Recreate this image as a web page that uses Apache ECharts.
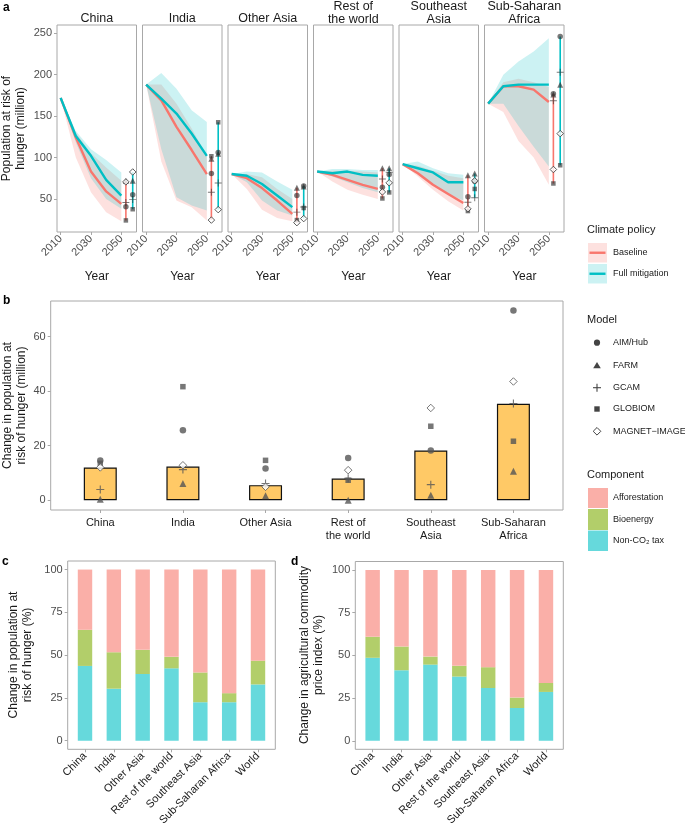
<!DOCTYPE html>
<html><head><meta charset="utf-8">
<script src="https://cdn.jsdelivr.net/npm/echarts@6/dist/echarts.min.js"></script>
<style>html,body{margin:0;padding:0;background:#fff}#c{width:685px;height:827px}</style>
</head><body><div id="c"></div>
<script>
// ---------------- Panel a data ----------------
const regionStrips = ['China', 'India', 'Other Asia', 'Rest of\nthe world', 'Southeast\nAsia', 'Sub-Saharan\nAfrica'];
const years = [2010, 2020, 2030, 2040, 2050];
const yearTicks = [2010, 2030, 2050];
const popTicks = [50, 100, 150, 200, 250];
// rows: China, India, Other Asia, Rest of the world, Southeast Asia, Sub-Saharan Africa
const baseLine = [
  [172, 124, 83, 59, 44], [188, 169, 137, 109, 80], [80, 75, 63, 48, 32],
  [83, 79, 73, 67, 62], [92, 81, 67, 56, 45], [165, 186, 186, 182, 167]];
const fullLine = [
  [172, 126, 102, 73, 54], [188, 171, 153, 129, 102], [80, 78, 68, 54, 40],
  [83, 81, 83, 79, 78], [92, 87, 82, 70, 70], [165, 186, 188, 188, 188]];
const baseLow = [
  [172, 100, 58, 34, 23], [188, 95, 48, 40, 24], [80, 62, 37, 27, 23],
  [83, 71, 61, 55, 50], [92, 77, 61, 47, 36], [165, 155, 120, 100, 67]];
const baseHigh = [
  [172, 130, 105, 88, 72], [188, 188, 165, 135, 102], [80, 80, 76, 62, 50],
  [83, 84, 84, 83, 82], [92, 90, 84, 78, 75], [165, 191, 195, 191, 185]];
const fullLow = [
  [172, 118, 75, 50, 38], [188, 110, 52, 42, 36], [80, 70, 48, 36, 30],
  [83, 77, 70, 63, 58], [92, 82, 68, 56, 48], [165, 165, 138, 113, 89]];
const fullHigh = [
  [172, 132, 110, 97, 82], [188, 202, 183, 157, 143], [80, 83, 82, 71, 61],
  [83, 86, 86, 85, 85], [92, 95, 87, 81, 79], [165, 200, 216, 228, 244]];
// 2050 model results per region
const baseAIM     = [40.5, 80.6, 54, 64, 52.6, 177];
const baseFARM    = [71.5, 98.5, 63.4, 87, 78.6, 176];
const baseGCAM    = [45.5, 58, 34, 74, 46, 168.5];
const baseGLOBIOM = [24, 101.5, 24.4, 50.5, 35.3, 68.6];
const baseMAGNET  = [70.5, 24.4, 21.3, 58.4, 38, 85.5];
const fullAIM     = [55, 106, 65.6, 79.5, 71.4, 246];
const fullFARM    = [72, 104.6, 65, 87, 80.6, 187.8];
const fullGCAM    = [49.4, 69.2, 40.1, 82, 51.4, 203];
const fullGLOBIOM = [37.5, 142.5, 39, 57.8, 62, 90.6];
const fullMAGNET  = [82.5, 37, 26.2, 69.4, 71.8, 128.8];

// ---------------- Panel b data ----------------
const bCategories = ['China', 'India', 'Other Asia', 'Rest of\nthe world', 'Southeast\nAsia', 'Sub-Saharan\nAfrica'];
const bTicks = [0, 20, 40, 60];
const bMedian  = [12.0, 12.3, 5.5, 7.9, 18.2, 35.3];
const bAIM     = [14.5, 25.6, 11.6, 15.5, 18.2, 69.5];
const bFARM    = [0.3, 6.1, 1.6, 0.0, 1.8, 10.6];
const bGCAM    = [3.9, 11.2, 6.1, 8.0, 5.7, 35.4];
const bGLOBIOM = [13.5, 41.6, 14.6, 7.3, 27.1, 21.6];
const bMAGNET  = [12.0, 12.8, 4.9, 11.0, 33.8, 43.5];

// ---------------- Panels c & d data ----------------
const cdCategories = ['China', 'India', 'Other Asia', 'Rest of the world', 'Southeast Asia', 'Sub-Saharan Africa', 'World'];
const pctTicks = [0, 25, 50, 75, 100];
const cNonCO2 = [43.7, 30.4, 39.0, 42.3, 22.5, 22.5, 32.9];
const cBio    = [21.1, 21.3, 14.1, 6.7, 17.4, 5.3, 13.9];
const cAffor  = [35.2, 48.3, 46.9, 51.0, 60.1, 72.2, 53.2];
const dNonCO2 = [48.6, 41.3, 44.6, 37.6, 30.9, 19.2, 28.6];
const dBio    = [12.3, 13.9, 4.7, 6.3, 12.2, 6.1, 5.3];
const dAffor  = [39.1, 44.8, 50.7, 56.1, 56.9, 74.7, 66.1];

const modelNames = ['AIM/Hub', 'FARM', 'GCAM', 'GLOBIOM', 'MAGNET\u2212IMAGE'];
const componentNames = ['Afforestation', 'Bioenergy', 'Non-CO\u2082 tax'];

// ---------------- styling ----------------
const FONT = 'Liberation Sans, Arial, Helvetica, sans-serif';
const TICK_C = '#4d4d4d', BORDER_C = '#a8a8a8';
const RED = '#F8766D', CYAN = '#00BFC4';
const PINK_FILL = 'rgba(248,118,109,0.22)', CYAN_FILL = 'rgba(0,191,196,0.20)';
const C_AFF = '#FAAFA8', C_BIO = '#B2CE6A', C_NON = '#66D9DC';
const plusPath = 'path://M4.3,0H5.7V4.3H10V5.7H5.7V10H4.3V5.7H0V4.3H4.3Z';
const modelSymbols = ['circle', 'triangle', plusPath, 'rect', 'diamond'];
const aSizes = [5.5, 6, 7, 4.5, 6.5];
const bSizes = [6.5, 7, 8, 5.5, 7.5];
const baseX = 2053, fullX = 2057.5;

const aLefts = [57, 142.5, 228, 313.5, 399, 484.5];
const aWidth = 79.5;

const grids = [], xAxes = [], yAxes = [], series = [], graphics = [];

function gridCfg(left, top, width, height) {
  return {left, top, width, height, show: true, borderColor: BORDER_C, borderWidth: 1,
    backgroundColor: 'transparent', containLabel: false, outerBoundsMode: 'none'};
}
function txt(x, y, text, opts) {
  return Object.assign({type: 'text', x, y, silent: true,
    style: Object.assign({text, font: (opts && opts.font) || ('12px ' + FONT), fill: (opts && opts.fill) || '#1a1a1a',
      textAlign: (opts && opts.align) || 'left', textVerticalAlign: 'middle', lineHeight: (opts && opts.lh) || 14})},
    opts && opts.rotation ? {rotation: opts.rotation} : {});
}
function valueAxis(gi, min, max, ticks, showLabels, labelOpts) {
  return {gridIndex: gi, type: 'value', min, max,
    axisLine: {show: false, onZero: false}, splitLine: {show: false},
    axisTick: {show: showLabels, customValues: ticks, length: 3, lineStyle: {color: BORDER_C}},
    axisLabel: Object.assign({show: showLabels, customValues: ticks, fontSize: 11, fontFamily: FONT,
      color: TICK_C, margin: 5, formatter: v => String(v)}, labelOpts || {})};
}

// ---------------- Panel a ----------------
const baseModels = [baseAIM, baseFARM, baseGCAM, baseGLOBIOM, baseMAGNET];
const fullModels = [fullAIM, fullFARM, fullGCAM, fullGLOBIOM, fullMAGNET];

function ribbon(gi, lo, hi, color) {
  const data = years.map((yr, k) => [yr, lo[k], hi[k]]);
  return {type: 'custom', xAxisIndex: gi, yAxisIndex: gi, data, encode: {x: 0, y: [1, 2]}, silent: true, z: 1,
    renderItem: function (params, api) {
      if (params.dataIndex !== 0) return null;
      const pts = [];
      for (let k = 0; k < data.length; k++) pts.push(api.coord([data[k][0], data[k][2]]));
      for (let k = data.length - 1; k >= 0; k--) pts.push(api.coord([data[k][0], data[k][1]]));
      return {type: 'polygon', shape: {points: pts}, style: {fill: color}};
    }};
}

for (let i = 0; i < 6; i++) {
  grids.push(gridCfg(aLefts[i], 25, aWidth, 207));
  const xa = valueAxis(i, 2007.6, 2060, yearTicks, true, {rotate: 45});
  xa.name = 'Year'; xa.nameLocation = 'middle'; xa.nameGap = 39;
  xa.nameTextStyle = {fontSize: 12, fontFamily: FONT, color: '#1a1a1a'};
  xAxes.push(xa);
  yAxes.push(valueAxis(i, 10, 260, popTicks, i === 0));

  series.push(ribbon(i, baseLow[i], baseHigh[i], PINK_FILL));
  series.push(ribbon(i, fullLow[i], fullHigh[i], CYAN_FILL));
  series.push({type: 'line', xAxisIndex: i, yAxisIndex: i, showSymbol: false, silent: true, z: 3,
    data: years.map((yr, k) => [yr, baseLine[i][k]]), lineStyle: {color: RED, width: 2.4}});
  series.push({type: 'line', xAxisIndex: i, yAxisIndex: i, showSymbol: false, silent: true, z: 3,
    data: years.map((yr, k) => [yr, fullLine[i][k]]), lineStyle: {color: CYAN, width: 2.4}});
  const bVals = baseModels.map(a => a[i]), fVals = fullModels.map(a => a[i]);
  series.push({type: 'line', xAxisIndex: i, yAxisIndex: i, showSymbol: false, silent: true, z: 3,
    data: [[baseX, Math.min(...bVals)], [baseX, Math.max(...bVals)]], lineStyle: {color: RED, width: 1.6}});
  series.push({type: 'line', xAxisIndex: i, yAxisIndex: i, showSymbol: false, silent: true, z: 3,
    data: [[fullX, Math.min(...fVals)], [fullX, Math.max(...fVals)]], lineStyle: {color: CYAN, width: 1.6}});
  for (let m = 0; m < 5; m++) {
    const open = m === 4;
    series.push({type: 'scatter', xAxisIndex: i, yAxisIndex: i, silent: true, z: 4,
      symbol: modelSymbols[m], symbolSize: aSizes[m],
      data: [[baseX, baseModels[m][i]], [fullX, fullModels[m][i]]],
      itemStyle: open ? {color: '#ffffff', borderColor: '#333', borderWidth: 1}
                      : {color: 'rgba(40,40,40,0.78)'}});
  }
  const two = regionStrips[i].indexOf('\n') >= 0;
  graphics.push(txt(aLefts[i] + aWidth / 2, two ? 13.2 : 19, regionStrips[i],
    {align: 'center', font: '12.5px ' + FONT, lh: 12.5}));
}

// ---------------- Panel b ----------------
const GB = 6;
grids.push(gridCfg(50.7, 301, 512.3, 209));
xAxes.push(valueAxis(GB, -0.6, 5.6, [0, 1, 2, 3, 4, 5], true,
  {formatter: v => bCategories[Math.round(v)], color: '#1a1a1a', margin: 6, lineHeight: 13}));
yAxes.push(valueAxis(GB, -3.6, 73, bTicks, true));
series.push({type: 'bar', xAxisIndex: GB, yAxisIndex: GB, barWidth: 33, silent: true, z: 2,
  data: bMedian.map((v, k) => [k, v]),
  itemStyle: {color: '#FFC966', borderColor: '#111', borderWidth: 1.2}});
const bModels = [bAIM, bFARM, bGCAM, bGLOBIOM, bMAGNET];
for (let m = 0; m < 5; m++) {
  const open = m === 4;
  series.push({type: 'scatter', xAxisIndex: GB, yAxisIndex: GB, silent: true, z: 4, name: modelNames[m],
    symbol: modelSymbols[m], symbolSize: bSizes[m], data: bModels[m].map((v, k) => [k, v]),
    itemStyle: open ? {color: '#ffffff', borderColor: '#555', borderWidth: 1} : {color: '#555'}});
}

// ---------------- Panels c & d ----------------
function segmentSeries(gi, starts, ends, col) {
  const data = starts.map((s, k) => [k, s, ends[k]]);
  return {type: 'custom', xAxisIndex: gi, yAxisIndex: gi, data, encode: {x: 0, y: [1, 2]}, silent: true, z: 2,
    renderItem: function (params, api) {
      const p0 = api.coord([api.value(0) - 0.25, api.value(1)]);
      const p1 = api.coord([api.value(0) + 0.25, api.value(2)]);
      return {type: 'rect', shape: {x: p0[0], y: p1[1], width: p1[0] - p0[0], height: p0[1] - p1[1]},
        style: {fill: col}};
    }};
}
function stackPanel(gi, left, top, width, height, non, bio, aff) {
  grids.push(gridCfg(left, top, width, height));
  xAxes.push(valueAxis(gi, -0.6, 6.6, [0, 1, 2, 3, 4, 5, 6], true,
    {formatter: v => cdCategories[Math.round(v)], rotate: 45, color: '#1a1a1a'}));
  yAxes.push(valueAxis(gi, -5, 105, pctTicks, true));
  // stack: Non-CO2 tax at the bottom, then Bioenergy, then Afforestation
  const zero = non.map(() => 0);
  const top1 = non.map((v) => v);
  const top2 = non.map((v, k) => v + bio[k]);
  const top3 = non.map((v, k) => v + bio[k] + aff[k]);
  series.push(segmentSeries(gi, zero, top1, C_NON));
  series.push(segmentSeries(gi, top1, top2, C_BIO));
  series.push(segmentSeries(gi, top2, top3, C_AFF));
}
stackPanel(7, 67.7, 561, 207.6, 188.3, cNonCO2, cBio, cAffor);
stackPanel(8, 355.3, 561.5, 208, 187.8, dNonCO2, dBio, dAffor);

// ---------------- Titles, panel letters, legends ----------------
const R90 = Math.PI / 2;
graphics.push(txt(14, 128.5, 'Population at risk of\nhunger (million)', {align: 'center', rotation: R90}));
graphics.push(txt(15, 405.5, 'Change in population at\nrisk of hunger (million)', {align: 'center', rotation: R90}));
graphics.push(txt(20.5, 655, 'Change in population at\nrisk of hunger (%)', {align: 'center', rotation: R90}));
graphics.push(txt(311.5, 655, 'Change in agricultural commodity\nprice index (%)', {align: 'center', rotation: R90}));
const boldF = 'bold 12px ' + FONT;
graphics.push(txt(3, 8, 'a', {font: boldF, fill: '#000'}));
graphics.push(txt(3, 301, 'b', {font: boldF, fill: '#000'}));
graphics.push(txt(2, 562, 'c', {font: boldF, fill: '#000'}));
graphics.push(txt(291, 562, 'd', {font: boldF, fill: '#000'}));

// Climate policy legend
const legF = '9px ' + FONT, legT = '11px ' + FONT;
graphics.push(txt(587, 230, 'Climate policy', {font: legT}));
[[243, PINK_FILL, RED, 'Baseline'], [264, CYAN_FILL, CYAN, 'Full mitigation']].forEach(([y, fill, line, label]) => {
  graphics.push({type: 'rect', silent: true, shape: {x: 588, y: y, width: 19, height: 19.5}, style: {fill}});
  graphics.push({type: 'line', silent: true, shape: {x1: 589.5, y1: y + 9.75, x2: 605.5, y2: y + 9.75}, style: {stroke: line, lineWidth: 2.4}});
  graphics.push(txt(613, y + 10, label, {font: legF}));
});

// Model legend
graphics.push(txt(587, 319.5, 'Model', {font: legT}));
const lx = 597, lys = [342.7, 365.5, 387.7, 409, 431.3], g = '#444';
graphics.push({type: 'circle', silent: true, shape: {cx: lx, cy: lys[0], r: 3.1}, style: {fill: g}});
graphics.push({type: 'polygon', silent: true, shape: {points: [[lx, lys[1] - 3.6], [lx + 3.8, lys[1] + 2.8], [lx - 3.8, lys[1] + 2.8]]}, style: {fill: g}});
graphics.push({type: 'line', silent: true, shape: {x1: lx - 4, y1: lys[2], x2: lx + 4, y2: lys[2]}, style: {stroke: g, lineWidth: 1.1}});
graphics.push({type: 'line', silent: true, shape: {x1: lx, y1: lys[2] - 4, x2: lx, y2: lys[2] + 4}, style: {stroke: g, lineWidth: 1.1}});
graphics.push({type: 'rect', silent: true, shape: {x: lx - 2.7, y: lys[3] - 2.7, width: 5.4, height: 5.4}, style: {fill: g}});
graphics.push({type: 'polygon', silent: true, shape: {points: [[lx, lys[4] - 3.8], [lx + 3.8, lys[4]], [lx, lys[4] + 3.8], [lx - 3.8, lys[4]]]}, style: {fill: '#fff', stroke: g, lineWidth: 1}});
modelNames.forEach((n, k) => graphics.push(txt(613, lys[k], n, {font: legF})));

// Component legend
graphics.push(txt(587, 475, 'Component', {font: legT}));
[[488, 20, C_AFF], [509, 21, C_BIO], [530.5, 20.5, C_NON]].forEach(([y, h, col], k) => {
  graphics.push({type: 'rect', silent: true, shape: {x: 588, y: y, width: 20, height: h}, style: {fill: col}});
  graphics.push(txt(613, y + h / 2, componentNames[k], {font: legF}));
});

const chart = echarts.init(document.getElementById('c'), null, {renderer: 'canvas'});
chart.setOption({
  animation: false,
  backgroundColor: '#ffffff',
  textStyle: {fontFamily: FONT},
  grid: grids, xAxis: xAxes, yAxis: yAxes, series: series,
  graphic: {elements: graphics}
});
</script>
</body></html>
